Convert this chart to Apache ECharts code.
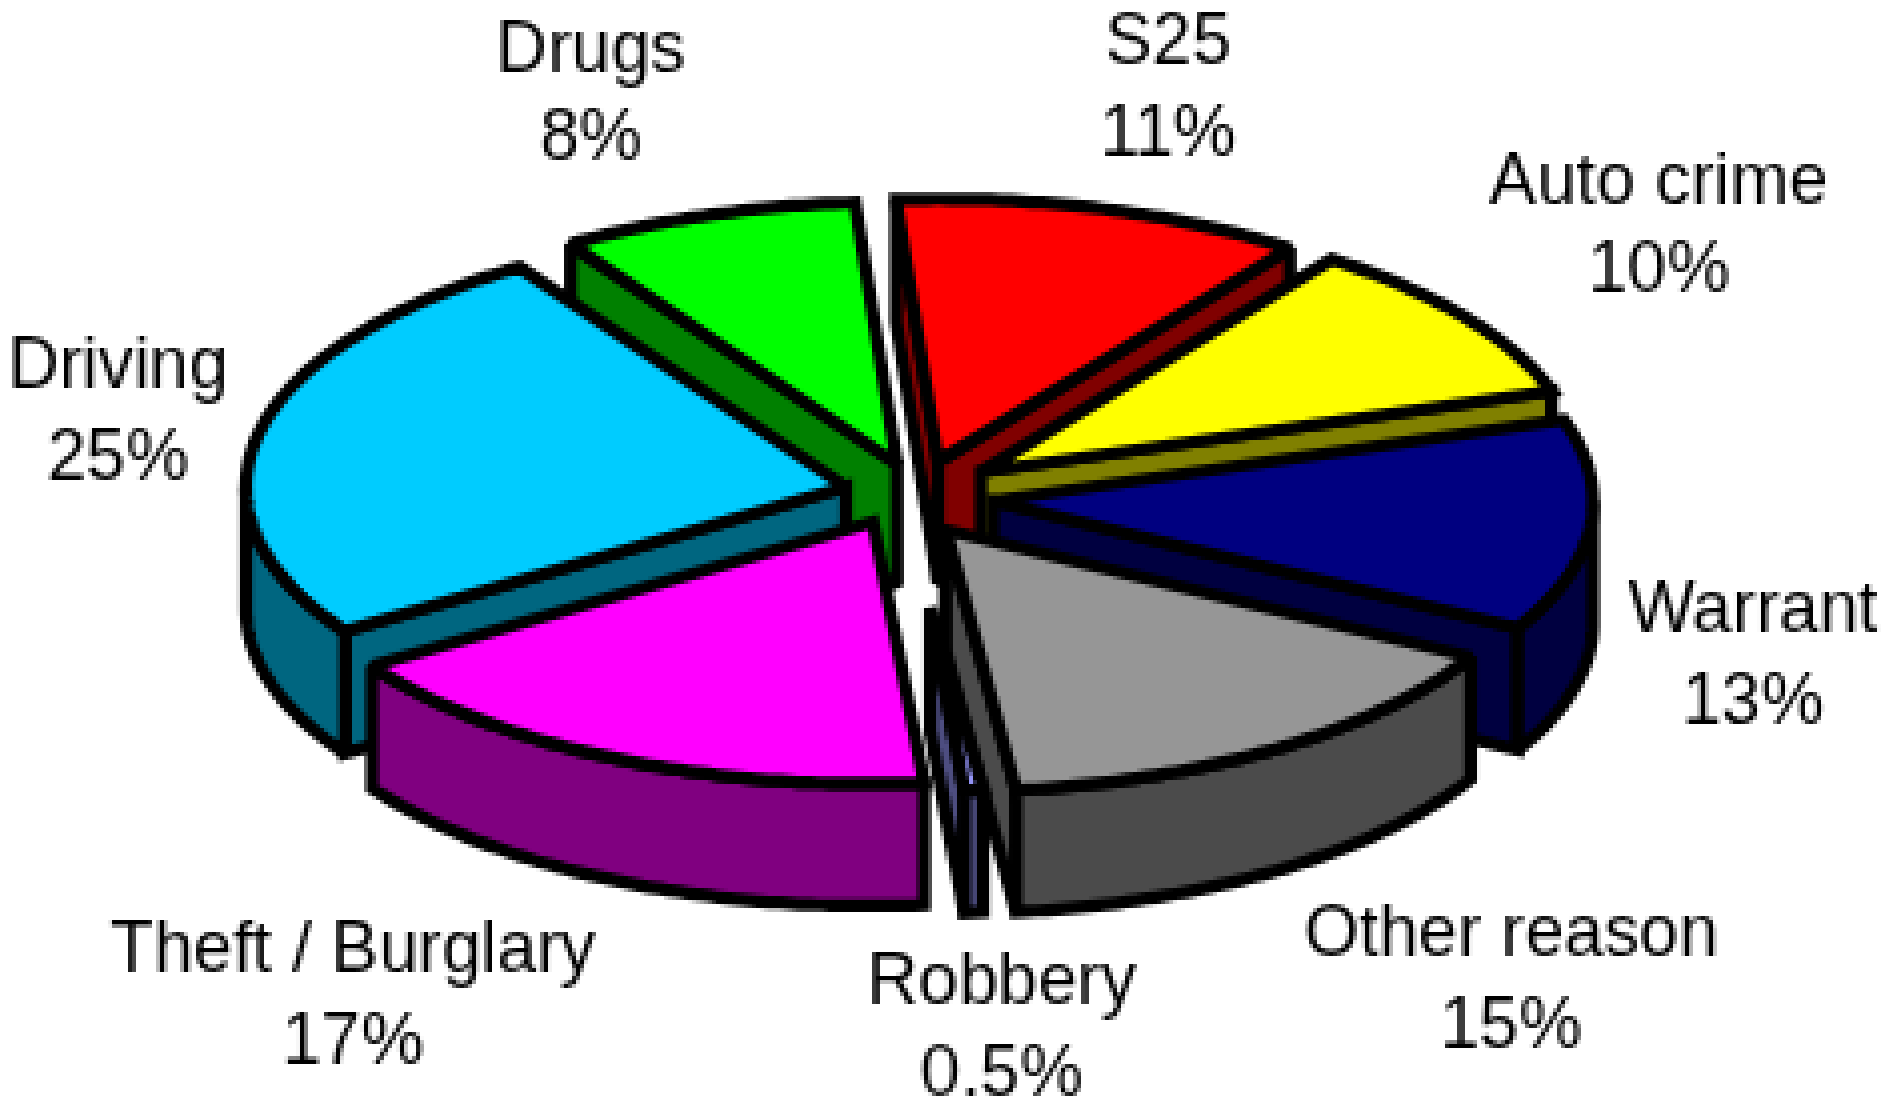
<!DOCTYPE html>
<html><head><meta charset="utf-8">
<script src="https://cdn.jsdelivr.net/npm/echarts@6/dist/echarts.min.js"></script>
<style>html,body{margin:0;padding:0;background:#fff}#c{width:1893px;height:1100px}#c canvas{image-rendering:pixelated}</style>
</head><body><div id="c"></div>
<script>
const categories = ['S25','Auto crime','Warrant','Other reason','Robbery','Theft / Burglary','Driving','Drugs'];
const shareValues = [11,10,13,15,0.5,17,25,8];
const shareLabels = ['11%','10%','13%','15%','0.5%','17%','25%','8%'];
const topColors = ['#ff0000','#ffff00','#000080','#969696','#9999ff','#ff00ff','#00ccff','#00ff00'];
const sideColors = ['#800000','#808000','#000040','#4b4b4b','#4d4d80','#800080','#006680','#008000'];
// pie geometry (screen px): centre, radii, depth, first-slice rotation
const CX = 925, CY = 480, RX = 600, RY = 262, DEPTH = 122, LINE = 13, START = -4;
// explosion of each slice from the centre, hidden inner part of a wedge, and paint order
const explode = [[13,-19],[55,-8],[67,21],[20,50],[-13,50],[-52,42],[-79,7],[-28,-16]];
const tipCut = [0,0,0,0,0.3,0,0,0];
const paintRank = [1,2,4,6,7,5,3,0];
// label block centres
const labelPos = [[1167,91],[1658,229],[1752,659],[1510,983],[1001,1030],[353,998],[118,414],[591,96]];
const total = shareValues.reduce((a,b)=>a+b,0);
const rad = d => d*Math.PI/180;
function pt(ox,oy,t,dz){return [ox+RX*Math.sin(rad(t)), oy-RY*Math.cos(rad(t))+(dz||0)];}
function arc(ox,oy,a,b,dz){const n=Math.max(2,Math.ceil(Math.abs(b-a)));const p=[];
  for(let i=0;i<=n;i++)p.push(pt(ox,oy,a+(b-a)*i/n,dz));return p;}
function renderItem(params,api){
  const i=params.dataIndex; let sum=0;
  for(let k=0;k<i;k++)sum+=shareValues[k];
  const a=START+sum/total*360, b=a+api.value(0)/total*360;
  const ox=CX+explode[i][0], oy=CY+explode[i][1], z=paintRank[i]*10;
  const mid=(a+b)/2, f=tipCut[i];
  const tip=[ox+f*RX*Math.sin(rad(mid)), oy-f*RY*Math.cos(rad(mid))];
  const st={stroke:'#000',lineWidth:LINE,lineJoin:'miter',miterLimit:2};
  const kids=[];
  const poly=(points,fill,zz)=>kids.push({type:'polygon',z2:z+zz,shape:{points},style:Object.assign({fill},st)});
  const face=(t)=>poly([tip,pt(ox,oy,t),pt(ox,oy,t,DEPTH),[tip[0],tip[1]+DEPTH]],sideColors[i],1);
  if(Math.sin(rad(a))<0)face(a);
  if(Math.sin(rad(b))>0)face(b);
  const f0=Math.max(a,90), f1=Math.min(b,270);
  if(f1>f0){const top=arc(ox,oy,f0,f1),bot=arc(ox,oy,f1,f0,DEPTH);poly(top.concat(bot),sideColors[i],2);}
  poly([tip].concat(arc(ox,oy,a,b)),topColors[i],3);
  const lp=labelPos[i];
  kids.push({type:'text',z2:100,style:{x:lp[0],y:lp[1],text:categories[i]+'\n'+shareLabels[i],align:'center',verticalAlign:'middle',
    fontFamily:'"Liberation Sans",Arial,sans-serif',fontSize:71,lineHeight:90,fill:'#000'}});
  return {type:'group',children:kids};
}
const chart=echarts.init(document.getElementById('c'),null,{renderer:'canvas',devicePixelRatio:0.25});
chart.setOption({animation:false,backgroundColor:'#fff',
  series:[{type:'custom',coordinateSystem:'none',renderItem,data:shareValues.map((v,i)=>({name:categories[i],value:[v]}))}]});
</script></body></html>
